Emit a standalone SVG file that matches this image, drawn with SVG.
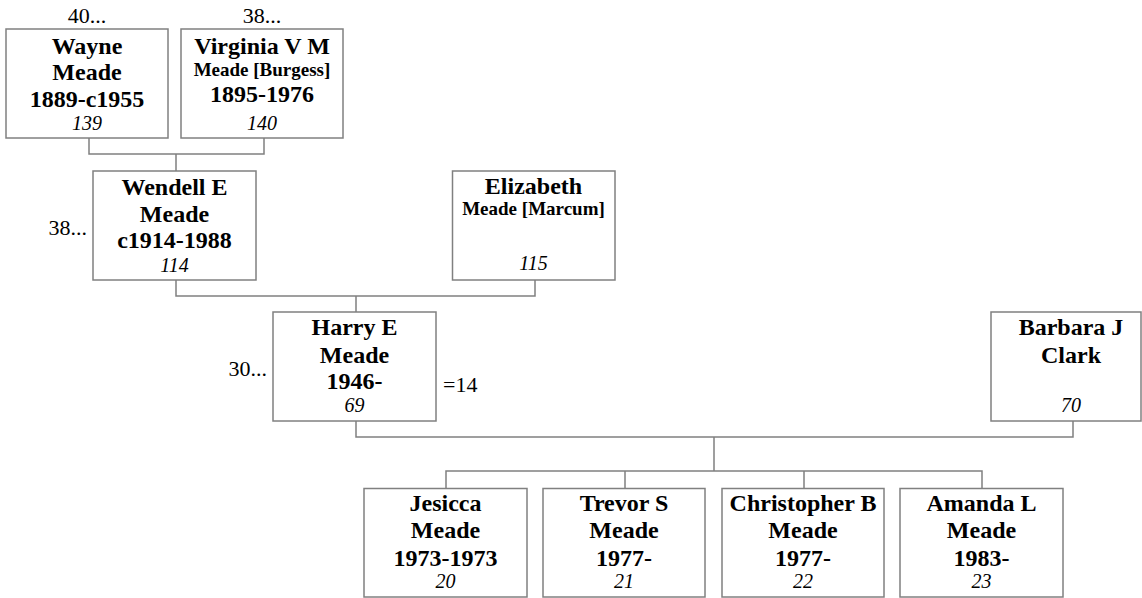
<svg xmlns="http://www.w3.org/2000/svg" width="1142" height="598" viewBox="0 0 1142 598">
<style>
.box{fill:#fff;stroke:#808080;stroke-width:1.5}
.n{font-family:"Liberation Serif","Times New Roman",serif;font-weight:bold;font-size:24px;text-anchor:middle;fill:#000}
.s{font-family:"Liberation Serif","Times New Roman",serif;font-weight:bold;font-size:19px;text-anchor:middle;fill:#000}
.i{font-family:"Liberation Serif","Times New Roman",serif;font-style:italic;font-size:20px;text-anchor:middle;fill:#000}
.r{font-family:"Liberation Serif","Times New Roman",serif;font-size:22px;fill:#000}
.c{fill:none;stroke:#808080;stroke-width:1.5}
</style>
<rect width="1142" height="598" fill="#fff"/>
<g id="connectors">
<path class="c" d="M89 138V154H264V138M176 154V171"/>
<path class="c" d="M176 280V296H535V280M356 296V312"/>
<path class="c" d="M356 421V437H1073V421M714 437V471"/>
<path class="c" d="M446 489V471H982V489M625 471V489M804 471V489"/>
</g>
<g id="wayne">
<text class="r" x="87" y="23" text-anchor="middle">40...</text>
<rect class="box" x="6" y="29" width="162" height="109"/>
<text class="n" x="87" y="54">Wayne</text>
<text class="n" x="87" y="80">Meade</text>
<text class="n" x="87" y="106.5">1889-c1955</text>
<text class="i" x="87" y="130">139</text>
</g>
<g id="virginia">
<text class="r" x="262" y="23" text-anchor="middle">38...</text>
<rect class="box" x="181" y="29" width="162" height="109"/>
<text class="n" x="262" y="54">Virginia V M</text>
<text class="s" x="262" y="76">Meade [Burgess]</text>
<text class="n" x="262" y="101.5">1895-1976</text>
<text class="i" x="262" y="130">140</text>
</g>
<g id="wendell">
<text class="r" x="87" y="235" text-anchor="end">38...</text>
<rect class="box" x="93" y="171" width="163" height="109"/>
<text class="n" x="174.5" y="195">Wendell E</text>
<text class="n" x="174.5" y="222">Meade</text>
<text class="n" x="174.5" y="248">c1914-1988</text>
<text class="i" x="174.5" y="271.5">114</text>
</g>
<g id="elizabeth">
<rect class="box" x="452.5" y="171" width="162.5" height="109"/>
<text class="n" x="533.5" y="194">Elizabeth</text>
<text class="s" x="533.5" y="215">Meade [Marcum]</text>
<text class="i" x="533.5" y="270">115</text>
</g>
<g id="harry">
<text class="r" x="267" y="376" text-anchor="end">30...</text>
<rect class="box" x="273" y="312" width="163" height="109"/>
<text class="n" x="354.5" y="335">Harry E</text>
<text class="n" x="354.5" y="362.5">Meade</text>
<text class="n" x="354.5" y="389">1946-</text>
<text class="i" x="354.5" y="411.5">69</text>
<text class="r" x="443" y="391.5">=14</text>
</g>
<g id="barbara">
<rect class="box" x="991" y="312" width="150" height="109"/>
<text class="n" x="1071" y="335">Barbara J</text>
<text class="n" x="1071" y="362.5">Clark</text>
<text class="i" x="1071" y="412">70</text>
</g>
<g id="jesicca">
<rect class="box" x="364" y="488.5" width="163" height="108.5"/>
<text class="n" x="445.5" y="511">Jesicca</text>
<text class="n" x="445.5" y="538">Meade</text>
<text class="n" x="445.5" y="565.5">1973-1973</text>
<text class="i" x="445.5" y="588">20</text>
</g>
<g id="trevor">
<rect class="box" x="543" y="488.5" width="162" height="108.5"/>
<text class="n" x="624" y="511">Trevor S</text>
<text class="n" x="624" y="538">Meade</text>
<text class="n" x="624" y="565.5">1977-</text>
<text class="i" x="624" y="588">21</text>
</g>
<g id="christopher">
<rect class="box" x="722" y="488.5" width="162" height="108.5"/>
<text class="n" x="803" y="511">Christopher B</text>
<text class="n" x="803" y="538">Meade</text>
<text class="n" x="803" y="565.5">1977-</text>
<text class="i" x="803" y="588">22</text>
</g>
<g id="amanda">
<rect class="box" x="900" y="488.5" width="163" height="108.5"/>
<text class="n" x="981.5" y="511">Amanda L</text>
<text class="n" x="981.5" y="538">Meade</text>
<text class="n" x="981.5" y="565.5">1983-</text>
<text class="i" x="981.5" y="588">23</text>
</g>
</svg>
